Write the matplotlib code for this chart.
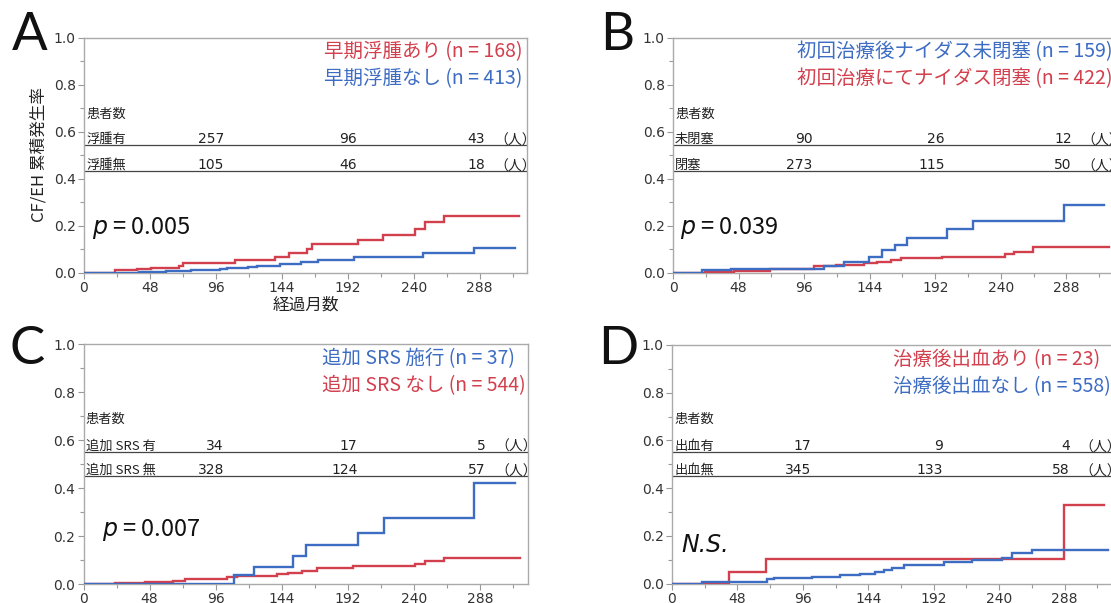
import matplotlib
matplotlib.use("Agg")
import matplotlib.pyplot as plt
from matplotlib.ticker import FixedLocator

plt.rcParams['font.family'] = ['Noto Sans CJK JP', 'DejaVu Sans']

RED = '#d23f4d'
BLUE = '#3d6cc3'

# ---------------- data ----------------
# Panel A
a_red_t = [0, 22.5, 38.8, 49, 69.3, 72.2, 110, 139, 149, 162, 166, 199.5, 218, 240.7, 248, 262, 317]
a_red_v = [0, 0.009, 0.014, 0.02, 0.029, 0.04, 0.054, 0.067, 0.084, 0.10, 0.122, 0.138, 0.16, 0.186, 0.213, 0.242, 0.242]
a_blue_t = [0, 40, 60, 78, 99, 104, 119.5, 125.6, 142.5, 158, 170, 196.6, 246.8, 284, 313.5]
a_blue_v = [0, 0.003, 0.006, 0.01, 0.014, 0.019, 0.023, 0.028, 0.036, 0.046, 0.055, 0.068, 0.081, 0.103, 0.103]
# Panel B
b_blue_t = [0, 21.5, 42.6, 72.5, 110.5, 125, 143.5, 153, 162.4, 171, 200.6, 219.5, 286, 315.5]
b_blue_v = [0, 0.009, 0.014, 0.017, 0.026, 0.046, 0.065, 0.094, 0.119, 0.146, 0.183, 0.22, 0.287, 0.287]
b_red_t = [0, 23.5, 44.3, 71.3, 103, 119, 140, 149.6, 159.4, 166.8, 197, 242.7, 250, 263.5, 319]
b_red_v = [0, 0.002, 0.006, 0.017, 0.028, 0.032, 0.04, 0.046, 0.055, 0.06, 0.067, 0.078, 0.087, 0.107, 0.107]
# Panel C
c_blue_t = [0, 109.6, 124.1, 152.4, 161.6, 199.6, 218.2, 283.8, 313.3]
c_blue_v = [0, 0.036, 0.069, 0.117, 0.161, 0.211, 0.274, 0.419, 0.419]
c_red_t = [0, 23, 44.8, 65.3, 73.8, 104, 111.3, 140.3, 148.8, 158.5, 169.4, 196, 240.7, 248, 262, 317]
c_red_v = [0, 0.003, 0.008, 0.014, 0.019, 0.028, 0.033, 0.04, 0.047, 0.056, 0.065, 0.074, 0.083, 0.097, 0.11, 0.11]
# Panel D
d_red_t = [0, 42, 69, 287.7, 316.8]
d_red_v = [0, 0.05, 0.104, 0.328, 0.328]
d_blue_t = [0, 22, 69.7, 74.6, 102.7, 123.5, 138.2, 149.2, 155.3, 161.4, 170, 199.3, 220, 242, 249.4, 264, 319.7]
d_blue_v = [0, 0.006, 0.017, 0.021, 0.028, 0.035, 0.039, 0.047, 0.056, 0.065, 0.078, 0.089, 0.099, 0.106, 0.126, 0.14, 0.14]

# legends
a_legend = [('早期浮腫あり (n = 168)', RED), ('早期浮腫なし (n = 413)', BLUE)]
b_legend = [('初回治療後ナイダス未閉塞 (n = 159)', BLUE), ('初回治療にてナイダス閉塞 (n = 422)', RED)]
c_legend = [('追加 SRS 施行 (n = 37)', BLUE), ('追加 SRS なし (n = 544)', RED)]
d_legend = [('治療後出血あり (n = 23)', RED), ('治療後出血なし (n = 558)', BLUE)]

# number-at-risk tables
a_rows = ['浮腫有', '浮腫無']
a_counts = [[257, 96, 43], [105, 46, 18]]
b_rows = ['未閉塞', '閉塞']
b_counts = [[90, 26, 12], [273, 115, 50]]
c_rows = ['追加 SRS 有', '追加 SRS 無']
c_counts = [[34, 17, 5], [328, 124, 57]]
d_rows = ['出血有', '出血無']
d_counts = [[17, 9, 4], [345, 133, 58]]

p_texts = [r'$p$ = 0.005', r'$p$ = 0.039', r'$p$ = 0.007', 'N.S.']
letters = ['A', 'B', 'C', 'D']
xticks = [0, 48, 96, 144, 192, 240, 288]
xminor = [24, 72, 120, 168, 216, 264, 312]
yticks = [0.0, 0.2, 0.4, 0.6, 0.8, 1.0]
yminor = [0.1, 0.3, 0.5, 0.7, 0.9]
count_x = [102, 199, 292]

W, H = 1111, 603
fig = plt.figure(figsize=(W / 100, H / 100), dpi=100)

def px_axes(left, top, bottom, right):
    return fig.add_axes([left / W, 1 - bottom / H, (right - left) / W, (bottom - top) / H])

axA = px_axes(84, 37.5, 272.5, 527)
axB = px_axes(673, 37.5, 272.5, 1113.5)
axC = px_axes(83.5, 344, 584, 527.5)
axD = px_axes(672, 345, 583.5, 1111.6)

XMAX = 322.5
TXT = '#222222'

panels = [
    (axA, [(a_red_t, a_red_v, RED), (a_blue_t, a_blue_v, BLUE)], a_legend, a_rows, a_counts, 175, (0.673, 0.543, 0.432), (5.5, 0.19)),
    (axB, [(b_red_t, b_red_v, RED), (b_blue_t, b_blue_v, BLUE)], b_legend, b_rows, b_counts, 90.5, (0.673, 0.543, 0.432), (5, 0.19)),
    (axC, [(c_red_t, c_red_v, RED), (c_blue_t, c_blue_v, BLUE)], c_legend, c_rows, c_counts, 173, (0.687, 0.551, 0.45), (13.5, 0.225)),
    (axD, [(d_red_t, d_red_v, RED), (d_blue_t, d_blue_v, BLUE)], d_legend, d_rows, d_counts, 162, (0.687, 0.551, 0.45), (7, 0.163)),
]

for i, (ax, curves, legend, rows, counts, legx, ty, ptxt) in enumerate(panels):
    for t, v, col in curves:
        ax.step(t, v, where='post', color=col, lw=1.7, solid_joinstyle='miter', zorder=3)
    ax.set_xlim(0, XMAX)
    ax.set_ylim(0, 1.0)
    ax.xaxis.set_major_locator(FixedLocator(xticks))
    ax.xaxis.set_minor_locator(FixedLocator(xminor))
    ax.yaxis.set_major_locator(FixedLocator(yticks))
    ax.yaxis.set_minor_locator(FixedLocator(yminor))
    ax.set_yticklabels(['%.1f' % y for y in yticks], family='DejaVu Sans')
    ax.set_xticklabels([str(x) for x in xticks], family='DejaVu Sans')
    ax.tick_params(which='both', direction='out', color='#999999', width=0.8, labelsize=10,
                   labelcolor='#333333')
    ax.tick_params(which='major', length=4, pad=2)
    ax.tick_params(which='minor', length=3)
    for s in ax.spines.values():
        s.set_color('#aaaaaa')
        s.set_linewidth(1.0)
    # legend text
    for j, (txt, col) in enumerate(legend):
        ax.text(legx, [0.94, 0.826][j], txt, color=col, fontsize=14, ha='left', va='center')
    # table
    hy, l1y, l2y = ty
    ax.text(1.5, hy, '患者数', fontsize=9.5, ha='left', va='center', color=TXT)
    for lab, cnt, ly in zip(rows, counts, [l1y, l2y]):
        by = ly + 0.009
        ax.text(1.5, by, lab, fontsize=9.5, ha='left', va='baseline', color=TXT)
        for cx, c in zip(count_x, cnt):
            ax.text(cx, by, str(c), fontsize=10, ha='right', va='baseline', color=TXT,
                    family='DejaVu Sans')
        ax.text(299, by - 0.006, '（人）', fontsize=10, ha='left', va='baseline', color=TXT)
        ax.axhline(ly, color='#444444', lw=0.9, zorder=2)
    # p value
    px, py = ptxt
    if p_texts[i] == 'N.S.':
        ax.text(px, py, p_texts[i], fontsize=17, ha='left', va='center', family='DejaVu Sans',
                style='italic', color='#111111')
    else:
        ax.text(px, py, p_texts[i], fontsize=17, ha='left', va='center', color='#111111')

axA.set_ylabel('CF/EH 累積発生率', fontsize=12, color=TXT)
axA.yaxis.set_label_coords(-36 / 443, 0.5)
axA.set_xlabel('経過月数', fontsize=12, color=TXT, labelpad=1)

for (x, y), L in zip([(12, 36), (600, 36), (10, 349), (598, 349)], letters):
    fig.text(x / W, 1 - y / H, L, fontsize=38, family=['Lato', 'DejaVu Sans'],
             ha='left', va='center', color='#111111')

fig.savefig('out.png', dpi=100)
